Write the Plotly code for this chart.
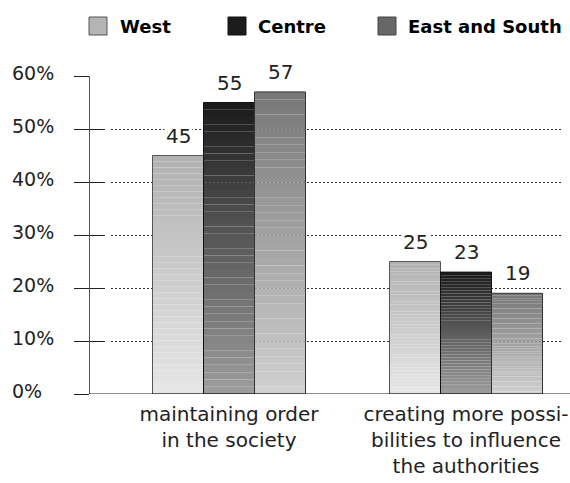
import plotly.graph_objects as go

# ---- data ----
categories = ["maintaining order<br>in the society",
              "creating more possi-<br>bilities to influence<br>the authorities"]
series_names = ["West", "Centre", "East and South"]
west = [45, 25]
centre = [55, 23]
east_south = [57, 19]
y_tick_values = [0, 10, 20, 30, 40, 50, 60]
y_tick_labels = ["0%", "10%", "20%", "30%", "40%", "50%", "60%"]

series_values = [west, centre, east_south]

# ---- styling ----
legend_colors = ["#b4b4b4", "#1c1c1c", "#676767"]
legend_borders = ["#555555", "#111111", "#444444"]
grad_top = [(0xb2, 0xb2, 0xb2), (0x1c, 0x1c, 0x1c), (0x78, 0x78, 0x78)]
grad_bottom = [(0xe6, 0xe6, 0xe6), (0x9c, 0x9c, 0x9c), (0xd0, 0xd0, 0xd0)]
outline_colors = ["#555555", "#111111", "#333333"]
N_SEG = 40

W, H = 570, 483
ML, MR, MT, MB = 89, 7, 76, 89
plot_w = W - ML - MR
plot_h = H - MT - MB
dom_left = 22 / plot_w
px_per_cat = 237.0
axis_len = plot_w * (1 - dom_left)
x_left = -(229 - 111) / px_per_cat
x_right = x_left + axis_len / px_per_cat
bargap = 1 - 153 / px_per_cat
bar_px = 153 / 3

# legend layout (pixels)
leg_sq_left = [89, 228, 378]
leg_text_left = [118, 256, 406]
leg_sq_size = 18
leg_top = 17

def px_x(p):
    return (p - ML) / plot_w

def px_y(p):
    return 1 - (p - MT) / plot_h

FONT = "DejaVu Sans, Verdana, sans-serif"

fig = go.Figure()

def rgb(c):
    return "rgb(%d,%d,%d)" % c

for si, (name, vals) in enumerate(zip(series_names, series_values)):
    for k in range(N_SEG):
        t = k / (N_SEG - 1)
        col = tuple(round(grad_bottom[si][j] + (grad_top[si][j] - grad_bottom[si][j]) * t) for j in range(3))
        fig.add_trace(go.Bar(
            x=categories,
            y=[v / N_SEG for v in vals],
            base=[v * k / N_SEG for v in vals],
            offsetgroup=name,
            marker=dict(color=rgb(col), line=dict(width=0)),
            showlegend=False, hoverinfo="skip"))
    fig.add_trace(go.Bar(
        x=categories, y=vals, base=[0, 0], offsetgroup=name, name=name,
        marker=dict(color="rgba(0,0,0,0)", line=dict(color=outline_colors[si], width=1)),
        showlegend=False, hoverinfo="skip"))

fig.add_trace(go.Scatter(x=categories, y=[None, None], yaxis="y2",
                         showlegend=False, hoverinfo="skip"))

annotations = []
shapes = []
for si, vals in enumerate(series_values):
    for ci, v in enumerate(vals):
        annotations.append(dict(
            x=categories[ci], y=v, xref="x", yref="y",
            text=str(v), showarrow=False, yanchor="bottom",
            xshift=(si - 1) * bar_px, yshift=6,
            bgcolor="white", borderpad=1,
            font=dict(family=FONT, size=20, color="#222222")))
for tv, tl in zip(y_tick_values, y_tick_labels):
    annotations.append(dict(
        x=px_x(10), y=tv, xref="paper", yref="y",
        text=tl, showarrow=False, xanchor="left", yanchor="middle", yshift=3,
        font=dict(family=FONT, size=19, color="#222222")))

# manual legend
for si, name in enumerate(series_names):
    shapes.append(dict(type="rect", xref="paper", yref="paper",
                       x0=px_x(leg_sq_left[si]), x1=px_x(leg_sq_left[si] + leg_sq_size),
                       y0=px_y(leg_top + leg_sq_size), y1=px_y(leg_top),
                       fillcolor=legend_colors[si],
                       line=dict(color=legend_borders[si], width=1)))
    annotations.append(dict(
        x=px_x(leg_text_left[si]), y=px_y(leg_top + leg_sq_size / 2),
        xref="paper", yref="paper", text="<b>%s</b>" % name, showarrow=False,
        xanchor="left", yanchor="middle",
        font=dict(family=FONT, size=18, color="#000000")))

shapes.append(dict(type="line", xref="paper", yref="y", x0=0, x1=1 + MR / plot_w,
                   y0=0, y1=0, line=dict(color="#222222", width=1)))

fig.update_layout(
    width=W, height=H,
    margin=dict(l=ML, r=MR, t=MT, b=MB, autoexpand=False),
    paper_bgcolor="white", plot_bgcolor="white",
    barmode="group", bargap=bargap, bargroupgap=0,
    showlegend=False,
    font=dict(family=FONT, size=20, color="#222222"),
    xaxis=dict(domain=[dom_left, 1], range=[x_left, x_right],
               showgrid=False, showline=False, zeroline=False, ticks="",
               ticklabelstandoff=6,
               tickfont=dict(family=FONT, size=20, color="#222222")),
    yaxis=dict(range=[0, 60], tickvals=y_tick_values, showticklabels=False,
               anchor="free", position=0,
               showline=True, linecolor="#555555", linewidth=1,
               ticks="outside", ticklen=15, tickcolor="#222222", tickwidth=1,
               showgrid=True, gridcolor="#333333", gridwidth=1, griddash="2px,2px",
               zeroline=False),
    yaxis2=dict(range=[0, 60], tickvals=y_tick_values, showticklabels=False,
                overlaying="y", anchor="free", position=0, side="left",
                ticks="inside", ticklen=15, tickcolor="#222222", tickwidth=1,
                showgrid=False, showline=False, zeroline=False),
    annotations=annotations,
    shapes=shapes,
)

fig.write_html("out.html",
               config={"displayModeBar": False},
               post_script="document.body.style.margin='0';document.body.style.padding='0';")
